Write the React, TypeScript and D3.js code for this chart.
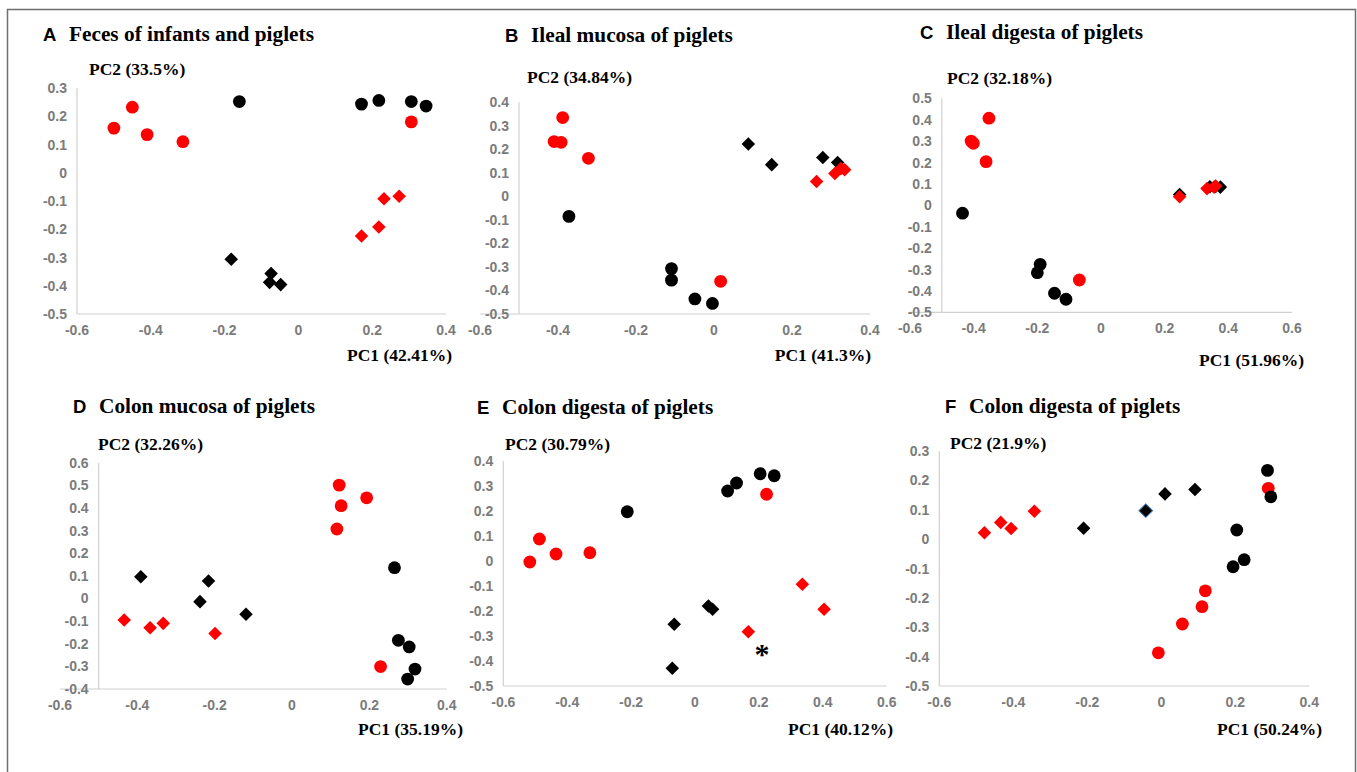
import React from 'react';
import * as d3 from 'd3';

const RED = '#ff0000';
const BLACK = '#000000';

// ---------- Tick values ----------
const xTicksA = [-0.6, -0.4, -0.2, 0, 0.2, 0.4];
const xTicksWide = [-0.6, -0.4, -0.2, 0, 0.2, 0.4, 0.6];
const yTicksA = [-0.5, -0.4, -0.3, -0.2, -0.1, 0, 0.1, 0.2, 0.3];
const yTicksB = [-0.5, -0.4, -0.3, -0.2, -0.1, 0, 0.1, 0.2, 0.3, 0.4];
const yTicksC = [-0.5, -0.4, -0.3, -0.2, -0.1, 0, 0.1, 0.2, 0.3, 0.4, 0.5];
const yTicksD = [-0.4, -0.3, -0.2, -0.1, 0, 0.1, 0.2, 0.3, 0.4, 0.5, 0.6];

// ---------- Panel A: Feces of infants and piglets ----------
const aRedCircles = [[-0.50, 0.158], [-0.45, 0.232], [-0.41, 0.135], [-0.313, 0.11], [0.306, 0.18]];
const aBlackCircles = [[-0.16, 0.252], [0.171, 0.243], [0.218, 0.256], [0.306, 0.252], [0.346, 0.236]];
const aRedDiamonds = [[0.232, -0.092], [0.273, -0.083], [0.218, -0.192], [0.171, -0.224]];
const aBlackDiamonds = [[-0.182, -0.306], [-0.074, -0.357], [-0.078, -0.388], [-0.048, -0.396]];

// ---------- Panel B: Ileal mucosa of piglets ----------
const bRedCircles = [[-0.388, 0.335], [-0.41, 0.233], [-0.392, 0.23], [-0.322, 0.162], [0.017, -0.361]];
const bBlackCircles = [[-0.372, -0.085], [-0.109, -0.307], [-0.109, -0.356], [-0.049, -0.436], [-0.004, -0.455]];
const bBlackDiamonds = [[0.088, 0.223], [0.148, 0.135], [0.279, 0.165], [0.317, 0.144]];
const bRedDiamonds = [[0.263, 0.063], [0.31, 0.097], [0.325, 0.118], [0.335, 0.113]];

// ---------- Panel C: Ileal digesta of piglets ----------
const cRedCircles = [[-0.352, 0.407], [-0.408, 0.3], [-0.401, 0.29], [-0.361, 0.204], [-0.068, -0.349]];
const cBlackCircles = [[-0.435, -0.037], [-0.191, -0.276], [-0.2, -0.315], [-0.146, -0.411], [-0.11, -0.439]];
const cBlackDiamonds = [[0.247, 0.05], [0.342, 0.087], [0.36, 0.088], [0.375, 0.085]];
const cRedDiamonds = [[0.247, 0.04], [0.333, 0.078], [0.355, 0.085], [0.36, 0.09]];

// ---------- Panel D: Colon mucosa of piglets ----------
const dRedCircles = [[0.122, 0.501], [0.193, 0.445], [0.127, 0.41], [0.116, 0.307], [0.229, -0.301]];
const dBlackCircles = [[0.265, 0.136], [0.275, -0.185], [0.303, -0.214], [0.318, -0.312], [0.299, -0.356]];
const dBlackDiamonds = [[-0.391, 0.096], [-0.216, 0.077], [-0.238, -0.014], [-0.119, -0.07]];
const dRedDiamonds = [[-0.434, -0.095], [-0.367, -0.129], [-0.333, -0.11], [-0.199, -0.155]];

// ---------- Panel E: Colon digesta of piglets ----------
const eBlackCircles = [[-0.212, 0.197], [0.102, 0.28], [0.13, 0.312], [0.204, 0.349], [0.248, 0.341]];
const eRedCircles = [[0.224, 0.267], [-0.487, 0.088], [-0.435, 0.028], [-0.329, 0.033], [-0.517, -0.004]];
const eBlackDiamonds = [[0.042, -0.18], [0.055, -0.193], [-0.065, -0.253], [-0.071, -0.429]];
const eRedDiamonds = [[0.336, -0.093], [0.404, -0.193], [0.167, -0.283]];
const eAsterisk = [[0.21, -0.35]];

// ---------- Panel F: Colon digesta of piglets ----------
const fRedDiamonds = [[-0.478, 0.022], [-0.434, 0.057], [-0.406, 0.036], [-0.343, 0.095]];
const fBlackDiamonds = [[-0.21, 0.037], [0.01, 0.154], [0.091, 0.169]];
const fBlackDiamondsOutlined = [[-0.042, 0.097]];
const fRedCircles = [[0.289, 0.173], [0.119, -0.176], [0.11, -0.23], [0.057, -0.289], [-0.008, -0.387]];
const fBlackCircles = [[0.287, 0.234], [0.296, 0.144], [0.204, 0.031], [0.224, -0.07], [0.194, -0.094]];

type Series = { pts: number[][]; shape: 'circle' | 'diamond'; color: string; stroke?: string };
type Panel = {
  letter: string; title: string; xTitle: string; yTitle: string;
  xDomain: [number, number]; yDomain: [number, number]; xTicks: number[]; yTicks: number[]; yAxisAt: number;
  series: Series[]; marks?: number[][];
  L: { x0: number; x1: number; yTop: number; yBot: number; letterX: number; titleX: number; titleY: number;
       yTitleX: number; yTitleY: number; xTitleRight: number; xTitleY: number };
};

const panels: Panel[] = [
  {
    letter: 'A', title: 'Feces of infants and piglets', xTitle: 'PC1 (42.41%)', yTitle: 'PC2 (33.5%)',
    xDomain: [-0.6, 0.4], yDomain: [-0.5, 0.3], xTicks: xTicksA, yTicks: yTicksA, yAxisAt: -0.6,
    series: [
      { pts: aRedCircles, shape: 'circle', color: RED },
      { pts: aBlackCircles, shape: 'circle', color: BLACK },
      { pts: aRedDiamonds, shape: 'diamond', color: RED },
      { pts: aBlackDiamonds, shape: 'diamond', color: BLACK },
    ],
    L: { x0: 77, x1: 446, yTop: 88, yBot: 314, letterX: 43, titleX: 69, titleY: 41, yTitleX: 89, yTitleY: 75, xTitleRight: 452, xTitleY: 361 },
  },
  {
    letter: 'B', title: 'Ileal mucosa of piglets', xTitle: 'PC1 (41.3%)', yTitle: 'PC2 (34.84%)',
    xDomain: [-0.6, 0.4], yDomain: [-0.5, 0.4], xTicks: xTicksA, yTicks: yTicksB, yAxisAt: -0.5,
    series: [
      { pts: bRedCircles, shape: 'circle', color: RED },
      { pts: bBlackCircles, shape: 'circle', color: BLACK },
      { pts: bBlackDiamonds, shape: 'diamond', color: BLACK },
      { pts: bRedDiamonds, shape: 'diamond', color: RED },
    ],
    L: { x0: 480, x1: 870, yTop: 102.3, yBot: 314, letterX: 505, titleX: 531, titleY: 42, yTitleX: 527, yTitleY: 83, xTitleRight: 871, xTitleY: 361 },
  },
  {
    letter: 'C', title: 'Ileal digesta of piglets', xTitle: 'PC1 (51.96%)', yTitle: 'PC2 (32.18%)',
    xDomain: [-0.6, 0.6], yDomain: [-0.5, 0.5], xTicks: xTicksWide, yTicks: yTicksC, yAxisAt: -0.5,
    series: [
      { pts: cRedCircles, shape: 'circle', color: RED },
      { pts: cBlackCircles, shape: 'circle', color: BLACK },
      { pts: cBlackDiamonds, shape: 'diamond', color: BLACK },
      { pts: cRedDiamonds, shape: 'diamond', color: RED },
    ],
    L: { x0: 910, x1: 1292, yTop: 98.3, yBot: 312.3, letterX: 920, titleX: 946, titleY: 39, yTitleX: 947, yTitleY: 84, xTitleRight: 1304, xTitleY: 366 },
  },
  {
    letter: 'D', title: 'Colon mucosa of piglets', xTitle: 'PC1 (35.19%)', yTitle: 'PC2 (32.26%)',
    xDomain: [-0.6, 0.4], yDomain: [-0.4, 0.6], xTicks: xTicksA, yTicks: yTicksD, yAxisAt: -0.5,
    series: [
      { pts: dRedCircles, shape: 'circle', color: RED },
      { pts: dBlackCircles, shape: 'circle', color: BLACK },
      { pts: dBlackDiamonds, shape: 'diamond', color: BLACK },
      { pts: dRedDiamonds, shape: 'diamond', color: RED },
    ],
    L: { x0: 60, x1: 446.7, yTop: 462.7, yBot: 689, letterX: 73, titleX: 99, titleY: 413, yTitleX: 98, yTitleY: 450, xTitleRight: 463, xTitleY: 735 },
  },
  {
    letter: 'E', title: 'Colon digesta of piglets', xTitle: 'PC1 (40.12%)', yTitle: 'PC2 (30.79%)',
    xDomain: [-0.6, 0.6], yDomain: [-0.5, 0.4], xTicks: xTicksWide, yTicks: yTicksB, yAxisAt: -0.6,
    series: [
      { pts: eBlackCircles, shape: 'circle', color: BLACK },
      { pts: eRedCircles, shape: 'circle', color: RED },
      { pts: eBlackDiamonds, shape: 'diamond', color: BLACK },
      { pts: eRedDiamonds, shape: 'diamond', color: RED },
    ],
    marks: eAsterisk,
    L: { x0: 503.3, x1: 886.7, yTop: 461, yBot: 686, letterX: 477, titleX: 502, titleY: 414, yTitleX: 505, yTitleY: 450, xTitleRight: 893, xTitleY: 735 },
  },
  {
    letter: 'F', title: 'Colon digesta of piglets', xTitle: 'PC1 (50.24%)', yTitle: 'PC2 (21.9%)',
    xDomain: [-0.6, 0.4], yDomain: [-0.5, 0.3], xTicks: xTicksA, yTicks: yTicksA, yAxisAt: -0.6,
    series: [
      { pts: fRedDiamonds, shape: 'diamond', color: RED },
      { pts: fBlackDiamonds, shape: 'diamond', color: BLACK },
      { pts: fBlackDiamondsOutlined, shape: 'diamond', color: BLACK, stroke: '#3d6ea8' },
      { pts: fRedCircles, shape: 'circle', color: RED },
      { pts: fBlackCircles, shape: 'circle', color: BLACK },
    ],
    L: { x0: 939.3, x1: 1309.3, yTop: 451, yBot: 686, letterX: 945, titleX: 969, titleY: 413, yTitleX: 950, yTitleY: 449, xTitleRight: 1322, xTitleY: 735 },
  },
];

const fmt = (v: number) => (Math.abs(v) < 1e-9 ? '0' : String(+v.toFixed(1)));
const SERIF = "'Liberation Serif', 'Times New Roman', serif";
const SANS = "'Liberation Sans', Arial, sans-serif";
const TICK = '#7b7b7b';
const AXIS = '#d0d0d0';
const diamondPath = d3.symbol().type(d3.symbolSquare).size(92)() as string;

function PanelView({ p }: { p: Panel }) {
  const L = p.L;
  const x = d3.scaleLinear().domain(p.xDomain).range([L.x0, L.x1]);
  const y = d3.scaleLinear().domain(p.yDomain).range([L.yBot, L.yTop]);
  const yAxisX = x(p.yAxisAt);
  return (
    <g>
      <text x={L.letterX} y={L.titleY} fontFamily={SANS} fontWeight="bold" fontSize={18.5} fill="#000">{p.letter}</text>
      <text x={L.titleX} y={L.titleY} fontFamily={SERIF} fontWeight="bold" fontSize={21.3} fill="#000">{p.title}</text>
      <text x={L.yTitleX} y={L.yTitleY} fontFamily={SERIF} fontWeight="bold" fontSize={17.5} fill="#000">{p.yTitle}</text>
      <text x={L.xTitleRight} y={L.xTitleY} textAnchor="end" fontFamily={SERIF} fontWeight="bold" fontSize={17.5} fill="#000">{p.xTitle}</text>
      {/* axes */}
      <line x1={x(p.xDomain[0])} x2={x(p.xDomain[1])} y1={y(p.yDomain[0])} y2={y(p.yDomain[0])} stroke={AXIS} strokeWidth={1.2} />
      <line x1={yAxisX} x2={yAxisX} y1={y(p.yDomain[0])} y2={y(p.yDomain[1])} stroke={AXIS} strokeWidth={1.2} />
      {p.yTicks.map((t) => (
        <text key={'y' + t} x={yAxisX - 10} y={y(t) + 5} textAnchor="end" fontFamily={SANS} fontWeight="bold" fontSize={14} fill={TICK}>{fmt(t)}</text>
      ))}
      {p.xTicks.map((t) => (
        <text key={'x' + t} x={x(t)} y={y(p.yDomain[0]) + 21} textAnchor="middle" fontFamily={SANS} fontWeight="bold" fontSize={14} fill={TICK}>{fmt(t)}</text>
      ))}
      {p.series.map((s, si) => (
        <g key={si}>
          {s.pts.map((d, i) =>
            s.shape === 'circle' ? (
              <circle key={i} cx={x(d[0])} cy={y(d[1])} r={6.4} fill={s.color} />
            ) : (
              <path key={i} d={diamondPath} transform={`translate(${x(d[0])},${y(d[1])}) rotate(45)`} fill={s.color}
                stroke={s.stroke || 'none'} strokeWidth={s.stroke ? 1 : 0} />
            )
          )}
        </g>
      ))}
      {(p.marks || []).map((d, i) => (
        <text key={'m' + i} x={x(d[0])} y={y(d[1]) + 15} textAnchor="middle" fontFamily={SERIF} fontWeight="bold" fontSize={30} fill="#000">*</text>
      ))}
    </g>
  );
}

export default function App() {
  return (
    <svg width={1357} height={772} style={{ position: 'absolute', left: 0, top: 0, background: '#fff' }}>
      <rect x={0} y={0} width={1357} height={772} fill="#fff" />
      <rect x={7.5} y={9.5} width={1348} height={770} fill="none" stroke="#6e6e6e" strokeWidth={1.5} />
      {panels.map((p) => (
        <PanelView key={p.letter} p={p} />
      ))}
    </svg>
  );
}
